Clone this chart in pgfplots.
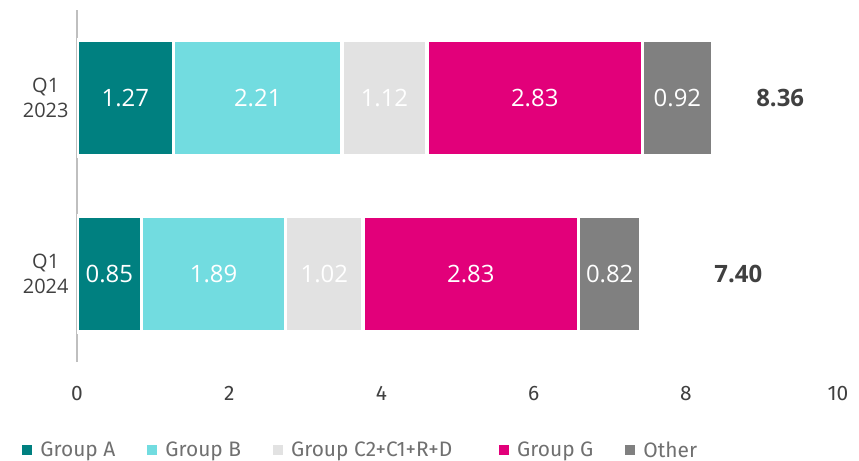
\documentclass[border=0pt]{standalone}
\usepackage{fontspec}
\setmainfont{Open Sans}
\newfontfamily\firasans{Fira Sans}
\usepackage{pgfplots}
\pgfplotsset{compat=1.18}
\definecolor{cA}{HTML}{008080}
\definecolor{cB}{HTML}{72DCE0}
\definecolor{cC}{HTML}{E2E2E2}
\definecolor{cG}{HTML}{E2007A}
\definecolor{cO}{HTML}{808080}
\definecolor{txt}{HTML}{404040}
\definecolor{legtxt}{HTML}{707070}
\begin{document}
\begin{tikzpicture}
\useasboundingbox (-77bp,-99bp) rectangle (782bp,362bp);
\begin{axis}[
  xbar stacked,
  scale only axis, width=761bp, height=352bp,
  xmin=0, xmax=10, ymin=-0.5, ymax=1.5,
  bar width=0.66,
  axis y line*=left, axis x line*=bottom,
  y axis line style={draw=black!25, line width=1.6bp, -},
  x axis line style={draw=none, -},
  major tick length=0pt,
  ytick={0,1}, yticklabels={{Q1\\2024},{Q1\\2023}},
  yticklabel style={align=center, font=\fontsize{20}{25}\selectfont, text=txt, xshift=-5bp},
  xtick={0,2,4,6,8,10},
  xticklabel style={font=\firasans\fontsize{21}{24}\selectfont, text=txt, yshift=-21bp},
  /pgf/number format/assume math mode=true,
  every axis plot/.append style={draw=white, line width=3.5bp},
  legend image code/.code={\fill[#1, draw=none] (0bp,-5bp) rectangle (10bp,5bp);},
  legend columns=5,
  legend style={at={(axis description cs:-0.072,-0.25)}, anchor=west, draw=none,
    font=\firasans\fontsize{21}{24}\selectfont, text=legtxt, inner xsep=0pt,
    /tikz/every even column/.append style={column sep=30bp},
    /tikz/every odd column/.append style={column sep=6bp}},
  nodes near coords,
  point meta=explicit symbolic,
  every node near coord/.append style={anchor=center, text=white,
    font=\fontsize{24}{28}\selectfont},
]
\addplot[fill=cA] coordinates {(0.85,0) [0.85] (1.27,1) [1.27]};
\addplot[fill=cB] coordinates {(1.89,0) [1.89] (2.21,1) [2.21]};
\addplot[fill=cC] coordinates {(1.02,0) [1.02] (1.12,1) [1.12]};
\addplot[fill=cG] coordinates {(2.83,0) [2.83] (2.83,1) [2.83]};
\addplot[fill=cO] coordinates {(0.82,0) [0.82] (0.92,1) [0.92]};
\legend{Group A, Group B, {Group C2+C1+R+D\rule{15bp}{0pt}}, Group G, Other}
\node[font=\fontsize{24}{28}\selectfont\bfseries, text=txt] at (axis cs:9.24,1) {8.36};
\node[font=\fontsize{24}{28}\selectfont\bfseries, text=txt] at (axis cs:8.69,0) {7.40};
\end{axis}
\end{tikzpicture}
\end{document}
